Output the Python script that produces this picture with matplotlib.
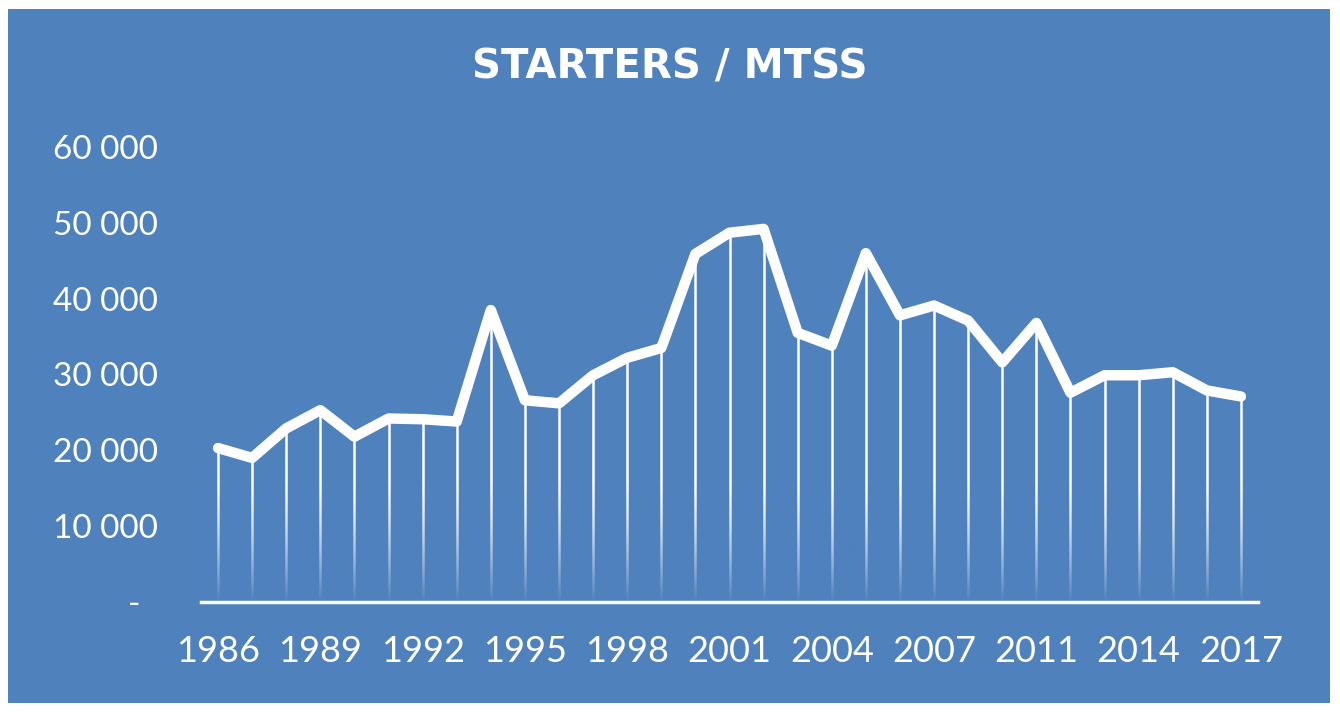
import matplotlib
matplotlib.use("Agg")
import matplotlib.pyplot as plt
import numpy as np
from matplotlib.patches import Rectangle
from matplotlib.ticker import FuncFormatter
from matplotlib.colors import to_rgb

# ---- data ----
years = list(range(1986, 2010)) + list(range(2011, 2018))
starters = [20300, 19000, 22900, 25300, 21800, 24200, 24100, 23800, 38500,
            26600, 26200, 29900, 32200, 33500, 45900, 48700, 49200, 35500,
            33800, 46000, 37800, 39100, 37100, 31600, 36800, 27600, 29900,
            29900, 30300, 27900, 27100]
title = "STARTERS / MTSS"
y_ticks = [0, 10000, 20000, 30000, 40000, 50000, 60000]
label_step = 3

BLUE = "#4F81BD"
W, H = 1340, 712

plt.rcParams["font.family"] = ["Lato", "DejaVu Sans"]

fig = plt.figure(figsize=(W / 100, H / 100), dpi=100, facecolor="white")
fig.patches.append(Rectangle((8 / W, 1 - 703 / H), (1330 - 8) / W, (703 - 9) / H,
                             transform=fig.transFigure, facecolor=BLUE,
                             edgecolor="none", zorder=-10))

ax = fig.add_axes([201 / W, 1 - 602 / H, (1258 - 201) / W, (602 - 147) / H])
ax.set_facecolor("none")
ax.set_zorder(5)

x = np.arange(len(years))

# drop lines (solid), then a blue fade overlay near the baseline
ax.vlines(x, 0, starters, colors="white", linewidths=1.8, zorder=2)
fade_top = 16000.0
n = 256
rgb = to_rgb(BLUE)
grad = np.zeros((n, 1, 4))
grad[:, 0, 0], grad[:, 0, 1], grad[:, 0, 2] = rgb
t = np.linspace(0, 1, n)  # 0 at bottom, 1 at fade_top
grad[:, 0, 3] = (1 - t) ** 1.3
ax.imshow(grad, extent=(-0.5, len(years) - 0.5, 0, fade_top), origin="lower",
          aspect="auto", interpolation="bilinear", zorder=2.5)

ax.plot(x, starters, color="white", lw=7.5, solid_joinstyle="round",
        solid_capstyle="round", zorder=3)

ax.set_xlim(-0.5, len(years) - 0.5)
ax.set_ylim(0, 60000)

ax.set_yticks(y_ticks)
ax.yaxis.set_major_formatter(FuncFormatter(
    lambda v, p: "-  " if v == 0 else f"{int(v):,}".replace(",", " ")))
tick_idx = list(range(0, len(years), label_step))
ax.set_xticks(tick_idx)
ax.set_xticklabels([str(years[i]) for i in tick_idx])

ax.tick_params(axis="y", length=0, pad=31, labelsize=24, labelcolor="white")
ax.tick_params(axis="x", length=0, pad=24, labelsize=26, labelcolor="white")

for s in ["top", "right", "left"]:
    ax.spines[s].set_visible(False)
ax.spines["bottom"].set_color("white")
ax.spines["bottom"].set_linewidth(2.5)
ax.spines["bottom"].set_zorder(4)

fig.text(0.5, 1 - 67 / H, title, ha="center", va="center", color="white",
         fontsize=29, fontweight="bold", family=["DejaVu Sans"], zorder=10)

fig.savefig("out.png", dpi=100, facecolor="white")
